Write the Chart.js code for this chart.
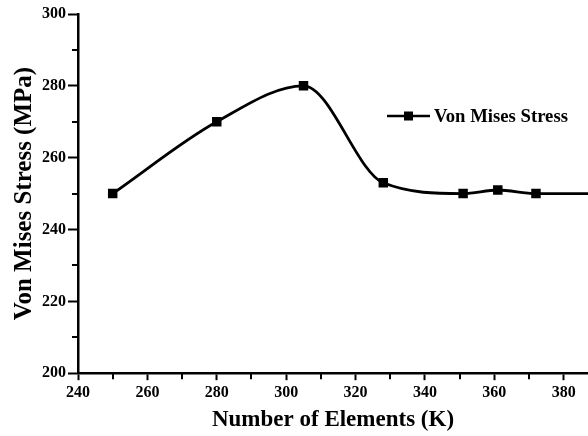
<!DOCTYPE html>
<html>
<head>
<meta charset="utf-8">
<script src="https://cdn.jsdelivr.net/npm/chart.js@4"></script>
<style>
  body { margin: 0; background: #fff; overflow: hidden; }
  #wrap { width: 588px; height: 436px; }
  canvas { display: block; }
</style>
</head>
<body>
<div id="wrap"><canvas id="stressChart"></canvas></div>
<script>
// values
var elements = [250, 280, 305, 328, 351, 361, 372, 400];
var stress = [250, 270, 280, 253, 250, 251, 250, 250];
var xTicks = [240, 260, 280, 300, 320, 340, 360, 380];
var yTicks = [200, 220, 240, 260, 280, 300];
var seriesName = 'Von Mises Stress';

var points = elements.map(function (x, i) {
    return { x: x, y: stress[i] };
});

// minor ticks halfway between labelled ticks, plus an in-plot legend
var extras = {
    id: 'extras',
    afterDraw: function (chart) {
        var ctx = chart.ctx;
        var xs = chart.scales.x, ys = chart.scales.y;
        ctx.save();
        ctx.strokeStyle = '#000';
        ctx.lineWidth = 2;
        for (var i = 0; i < yTicks.length - 1; i++) {
            var py = Math.round(ys.getPixelForValue(yTicks[i] + 10));
            ctx.beginPath();
            ctx.moveTo(xs.left - 6, py);
            ctx.lineTo(xs.left, py);
            ctx.stroke();
        }
        for (var j = 0; j < xTicks.length; j++) {
            var v = xTicks[j] + 10;
            if (v > xs.max) continue;
            var px = Math.round(xs.getPixelForValue(v));
            ctx.beginPath();
            ctx.moveTo(px, ys.bottom);
            ctx.lineTo(px, ys.bottom + 6);
            ctx.stroke();
        }
        // legend
        var ly = 116;
        ctx.lineWidth = 2.5;
        ctx.beginPath();
        ctx.moveTo(387, ly);
        ctx.lineTo(430, ly);
        ctx.stroke();
        ctx.fillStyle = '#000';
        ctx.fillRect(404, ly - 4.5, 9, 9);
        ctx.font = 'bold 18.7px "Liberation Serif"';
        ctx.textBaseline = 'middle';
        ctx.fillText(seriesName, 434, ly + 1);
        ctx.restore();
    }
};

var ctx = document.getElementById('stressChart');
var chart = new Chart(ctx, {
    type: 'line',
    data: {
        datasets: [{
            label: seriesName,
            data: points,
            borderColor: '#000',
            backgroundColor: '#000',
            borderWidth: 2.8,
            pointStyle: 'rect',
            pointRadius: 6.7,
            pointBorderWidth: 0,
            cubicInterpolationMode: 'monotone',
            fill: false
        }]
    },
    options: {
        responsive: true,
        maintainAspectRatio: false,
        animation: false,
        layout: { autoPadding: false, padding: { top: 14, right: 0, left: 1, bottom: 0 } },
        plugins: {
            legend: { display: false },
            tooltip: { enabled: false }
        },
        scales: {
            x: {
                type: 'linear',
                min: 240,
                max: 387,
                afterBuildTicks: function (scale) {
                    scale.ticks = xTicks.map(function (v) { return { value: v }; });
                },
                border: { color: '#000', width: 2.5 },
                grid: { drawOnChartArea: false, color: '#000', tickLength: 7, tickWidth: 2 },
                ticks: {
                    color: '#000',
                    padding: 3,
                    maxRotation: 0,
                    font: { family: 'Liberation Serif', size: 16, weight: 'bold' }
                },
                title: {
                    display: true,
                    text: 'Number of Elements (K)',
                    color: '#000',
                    padding: { top: 1, bottom: 2 },
                    font: { family: 'Liberation Serif', size: 23, weight: 'bold' }
                }
            },
            y: {
                min: 200,
                max: 300,
                afterBuildTicks: function (scale) {
                    scale.ticks = yTicks.map(function (v) { return { value: v }; });
                },
                border: { color: '#000', width: 2.5 },
                grid: { drawOnChartArea: false, color: '#000', tickLength: 10, tickWidth: 2 },
                ticks: {
                    color: '#000',
                    padding: 2,
                    font: { family: 'Liberation Serif', size: 16, weight: 'bold' }
                },
                title: {
                    display: true,
                    text: 'Von Mises Stress (MPa)',
                    color: '#000',
                    padding: { top: 9, bottom: 0 },
                    font: { family: 'Liberation Serif', size: 25, weight: 'bold' }
                }
            }
        }
    },
    plugins: [extras]
});
</script>
</body>
</html>
